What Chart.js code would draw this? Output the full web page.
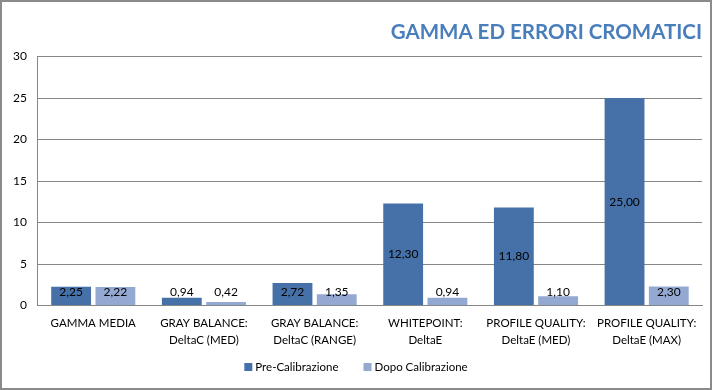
<!DOCTYPE html>
<html><head><meta charset="utf-8">
<script src="https://cdn.jsdelivr.net/npm/chart.js@4"></script>
<style>
html,body{margin:0;padding:0;background:#fff;}
#wrap{position:absolute;left:0;top:0;width:712px;height:390px;box-sizing:border-box;border:2px solid #8a8a8a;background:#fff;}
canvas{display:block;}
</style></head>
<body><div id="wrap"><canvas id="c" width="708" height="386"></canvas></div>
<script>
const categories = [["GAMMA MEDIA"],["GRAY BALANCE:","DeltaC (MED)"],["GRAY BALANCE:","DeltaC (RANGE)"],["WHITEPOINT:","DeltaE"],["PROFILE QUALITY:","DeltaE (MED)"],["PROFILE QUALITY:","DeltaE (MAX)"]];
const preCalibrazione = [2.25, 0.94, 2.72, 12.30, 11.80, 25.00];
const dopoCalibrazione = [2.22, 0.42, 1.35, 0.94, 1.10, 2.30];
const seriesNames = ["Pre-Calibrazione", "Dopo Calibrazione"];
const yTicks = [0,5,10,15,20,25,30];

const FONT = "Lato, 'Open Sans', sans-serif";

const labelPlugin = {
  id: 'barLabels',
  afterDatasetsDraw(chart) {
    const ctx = chart.ctx;
    const base = chart.scales.y.getPixelForValue(0);
    ctx.save();
    ctx.font = "12px " + FONT;
    ctx.fillStyle = "#000";
    ctx.textAlign = "center";
    ctx.textBaseline = "middle";
    chart.data.datasets.forEach((ds, di) => {
      const meta = chart.getDatasetMeta(di);
      meta.data.forEach((bar, i) => {
        const v = ds.data[i];
        let y = (bar.y + base) / 2;
        if (y > base - 13) y = base - 13;
        ctx.fillText(v.toFixed(2).replace('.', ','), bar.x, y);
      });
    });
    ctx.restore();
  }
};

const legendPlugin = {
  id: 'customLegend',
  afterDraw(chart) {
    const ctx = chart.ctx;
    ctx.save();
    ctx.font = "11.5px " + FONT;
    ctx.textBaseline = "middle";
    ctx.textAlign = "left";
    const box = 8, gapText = 3, gapItem = 25;
    const items = chart.data.datasets.map(ds => ({ text: ds.label, color: ds.backgroundColor, w: ctx.measureText(ds.label).width }));
    const total = items.reduce((s, it) => s + box + gapText + it.w, 0) + gapItem * (items.length - 1);
    let x = chart.width / 2 - total / 2;
    const y = chart.height - 21;
    items.forEach(it => {
      ctx.fillStyle = it.color;
      ctx.fillRect(x, y - box / 2, box, box);
      x += box + gapText;
      ctx.fillStyle = "#000";
      ctx.fillText(it.text, x, y);
      x += it.w + gapItem;
    });
    ctx.restore();
  }
};

new Chart(document.getElementById('c'), {
  type: 'bar',
  data: {
    labels: categories,
    datasets: [
      { label: seriesNames[0], data: preCalibrazione, backgroundColor: '#4571a8', borderWidth: 0 },
      { label: seriesNames[1], data: dopoCalibrazione, backgroundColor: '#94a9d2', borderWidth: 0 }
    ]
  },
  options: {
    responsive: false,
    animation: false,
    layout: { padding: { left: 0, right: 8, top: 4, bottom: 38 } },
    plugins: {
      title: {
        display: true, text: 'GAMMA ED ERRORI CROMATICI', align: 'end',
        color: '#4a7ebb', font: { family: FONT, size: 20.5, weight: 'bold' },
        padding: { top: 14, bottom: 12 }
      },
      legend: { display: false },
      tooltip: { enabled: false }
    },
    scales: {
      x: {
        categoryPercentage: 0.81, barPercentage: 0.8,
        grid: { display: false },
        border: { display: true, color: '#868686' },
        ticks: { color: '#000', font: { family: FONT, size: 11.5, lineHeight: 1.5 }, maxRotation: 0, padding: 1 }
      },
      y: {
        min: 0, max: 30,
        afterBuildTicks(axis) { axis.ticks = yTicks.map(v => ({ value: v })); },
        grid: { color: '#868686', drawTicks: false },
        border: { display: true, color: '#868686' },
        ticks: { color: '#000', font: { family: FONT, size: 12 }, padding: 11 }
      }
    }
  },
  plugins: [labelPlugin, legendPlugin]
});
</script></body></html>
